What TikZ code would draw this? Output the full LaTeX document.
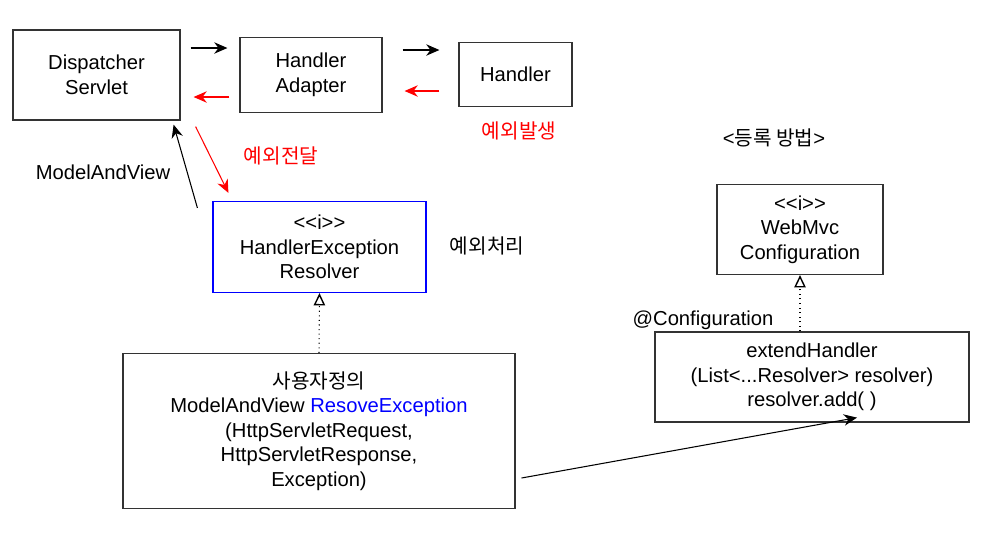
\documentclass[tikz,border=0pt]{standalone}
\usepackage{fontspec}
\setmainfont{Liberation Sans}
\newfontfamily\krfont{Noto Sans CJK KR}
\usetikzlibrary{arrows.meta,calc}
\definecolor{exred}{RGB}{255,0,0}
\definecolor{ifblue}{RGB}{0,0,255}
\tikzset{
  box/.style={draw=black!80, line width=0.7pt, inner sep=0pt, align=center},
  lbl/.style={inner sep=0pt, align=center},
  flow/.style={-{Stealth[length=7.5pt,width=6.5pt]}, line width=0.6pt},
  impl/.style={-{Triangle[open,length=7pt,width=6.5pt,line width=0.8pt]}, dotted, line width=0.6pt},
}
\newcommand{\ifmark}{<{}<i>{}>}

\begin{document}
\begin{tikzpicture}[x=0.02cm, y=-0.02cm, font=\fontsize{11.5}{14}\selectfont]
\useasboundingbox (0,0) rectangle (995,545);
% call chain
\node[box, minimum width=3.34cm, minimum height=1.8cm] (ds) at (96.5,75) {Dispatcher\\Servlet};
\node[box, minimum width=2.84cm, minimum height=1.5cm] (ha) at (311,75) {Handler\\Adapter};
\node[box, minimum width=2.26cm, minimum height=1.28cm] (hd) at (515.5,74.5) {Handler};
\draw[flow] (ds.east |- 0,48) ++(10,0) -- ($(ha.west |- 0,48)+(-12,0)$);
\draw[flow] (ha.east |- 0,50) ++(20,0) -- ($(hd.west |- 0,50)+(-19,0)$);
\draw[flow, exred] (hd.west |- 0,91) ++(-19,0) -- ($(ha.east |- 0,91)+(22,0)$);
\draw[flow, exred] (ha.west |- 0,97) ++(-10,0) -- ($(ds.east |- 0,97)+(13,0)$);
\node[lbl, text=exred] (raise) at (519,131) {\krfont 예외발생};
% resolver
\node[box, draw=ifblue, minimum width=4.26cm, minimum height=1.82cm] (her) at (319.5,247) {\ifmark\\HandlerException\\Resolver};
\draw[flow, exred] ($(ds.south east)+(15,6)$) -- ($(her.north west)+(16,-8)$);
\node[lbl, text=exred] (pass) at (281,156) {\krfont 예외전달};
\draw[flow] ($(her.north west)+(-15,7)$) -- ($(ds.south east)+(-7,4)$);
\node[lbl] (mav) at (103,172) {ModelAndView};
\node[lbl] (handle) at (487,246) {\krfont 예외처리};
\node[box, minimum width=7.84cm, minimum height=3.1cm] (cust) at (319,431)
  {{\krfont 사용자정의}\\ModelAndView \textcolor{ifblue}{ResoveException}\\(HttpServletRequest,\\HttpServletResponse,\\Exception)};
\draw[impl] (cust.north) -- (her.south);
% registration
\node[lbl] (reg) at (774,138) {<{\krfont 등록 방법}>};
\node[box, minimum width=3.32cm, minimum height=1.8cm] (wmc) at (800,229.5) {\ifmark\\WebMvc\\Configuration};
\node[box, minimum width=6.28cm, minimum height=1.8cm] (ext) at (812,377) {extendHandler\\(List<...Resolver> resolver)\\resolver.add( )};
\node[lbl] (conf) at (703,320) {@Configuration};
\draw[impl] (ext.north -| wmc.south) -- (wmc.south);
\draw[flow] ($(cust.east |- 0,478)+(6,0)$) -- ($(ext.south)+(45,-5)$);
\end{tikzpicture}
\end{document}
